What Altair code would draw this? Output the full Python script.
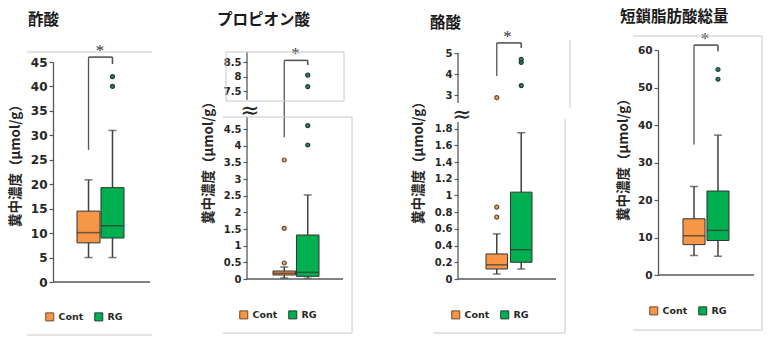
import altair as alt
import pandas as pd

groups = ["Cont", "RG"]
box_colors = ["#F79646", "#00B050"]
out_fill = ["#E3A86E", "#2F7F5F"]
out_stroke = ["#6B4A2A", "#1E3B33"]

titles = ["酢酸", "プロピオン酸", "酪酸", "短鎖脂肪酸総量"]
y_title = "糞中濃度（μmol/g）"

# 酢酸
ace_low = [5.0, 5.0]
ace_q1 = [8.0, 9.0]
ace_med = [10.1, 11.5]
ace_q3 = [14.5, 19.3]
ace_high = [20.9, 31.0]
ace_out_g = ["RG", "RG"]
ace_out_v = [40.0, 42.0]
ace_ticks = [0, 5, 10, 15, 20, 25, 30, 35, 40, 45]
ace_sig = [27.0, 46.0, 44.6]

# プロピオン酸
pro_low = [0.03, 0.02]
pro_q1 = [0.12, 0.08]
pro_med = [0.17, 0.20]
pro_q3 = [0.24, 1.32]
pro_high = [0.36, 2.52]
pro_out_g = ["Cont", "Cont", "Cont", "RG", "RG", "RG", "RG"]
pro_out_v = [0.48, 1.52, 3.57, 4.02, 4.60, 7.65, 8.05]
pro_ticks = [0, 0.5, 1, 1.5, 2, 2.5, 3, 3.5, 4, 4.5, 7.5, 8, 8.5]
pro_sig = [4.25, 8.56, 8.40]

# 酪酸
but_low = [0.06, 0.12]
but_q1 = [0.12, 0.20]
but_med = [0.17, 0.35]
but_q3 = [0.30, 1.04]
but_high = [0.54, 1.75]
but_out_g = ["Cont", "Cont", "Cont", "RG", "RG", "RG"]
but_out_v = [0.74, 0.86, 2.88, 3.45, 4.55, 4.70]
but_ticks = [0, 0.2, 0.4, 0.6, 0.8, 1, 1.2, 1.4, 1.6, 1.8, 3, 4, 5]
but_sig = [3.9, 5.48, 5.24]

# 短鎖脂肪酸総量
tot_low = [5.2, 5.0]
tot_q1 = [8.1, 9.2]
tot_med = [10.5, 11.9]
tot_q3 = [15.0, 22.4]
tot_high = [23.6, 37.3]
tot_out_g = ["RG", "RG"]
tot_out_v = [52.2, 54.8]
tot_ticks = [0, 10, 20, 30, 40, 50, 60]
tot_sig = [34.8, 61.3, 59.7]

JP = "Noto Sans CJK JP"
LAT = "DejaVu Sans"
FRAME = "#C8C8C8"

ONE = alt.Data(values=[{"k": 1}])


def hline(x1, x2, y, color=FRAME, sw=1, op=1):
    return alt.Chart(ONE).mark_rule(color=color, strokeWidth=sw, opacity=op).encode(
        x=alt.value(x1), x2=alt.value(x2), y=alt.value(y))


def vline(x, y1, y2):
    return alt.Chart(ONE).mark_rule(color=FRAME, strokeWidth=1).encode(
        x=alt.value(x), y=alt.value(y1), y2=alt.value(y2))


def panel(c):
    xs = alt.Scale(domain=groups, range=c["xr"], paddingInner=c["pi"], paddingOuter=0)
    ys = alt.Scale(domain=c["ydom"], range=c["yr"], nice=False, zero=False)
    yaxis = alt.Axis(
        values=c["ticks"], labelExpr="toString(datum.value)", title=y_title,
        titleX=c["ytx"], titleY=c["yty"], titleAngle=-90, titleAlign="center",
        titleBaseline="middle", titleFont=JP, titleFontSize=13.5, titleFontWeight="bold",
        titleColor="#262626", labelFont=LAT, labelFontSize=c["lfs"], labelFontWeight="bold",
        labelColor="#262626", tickColor="#595959", tickSize=4, tickWidth=1.2,
        domain=c["domain"], domainColor="#595959", domainWidth=1.3, grid=False,
        labelPadding=2, labelOverlap=False, labelFlush=False, titleLimit=300)

    def X(f, **kw):
        return alt.X(f, scale=xs, axis=None, **kw)

    def Y(f):
        return alt.Y(f, scale=ys, axis=yaxis)

    box_df = pd.DataFrame({"g": groups, "low": c["low"], "q1": c["q1"],
                           "med": c["med"], "q3": c["q3"], "high": c["high"]})
    out_df = pd.DataFrame({"g": c["out_g"], "v": c["out_v"]})
    sig_df = pd.DataFrame({"left": ["Cont"], "right": ["RG"], "lo": [c["sig"][0]],
                           "top": [c["sig"][1]], "rend": [c["sig"][2]], "s": ["*"]})
    base = alt.Chart(box_df)

    layers = []
    layers.append(base.mark_rule(color="#404040", strokeWidth=1.5).encode(
        x=X("g:N"), y=Y("low:Q"), y2="high:Q"))
    layers.append(base.mark_tick(color="#404040", size=8, thickness=1.5).encode(
        x=X("g:N"), y=Y("low:Q")))
    layers.append(base.mark_tick(color="#404040", size=8, thickness=1.5).encode(
        x=X("g:N"), y=Y("high:Q")))
    layers.append(base.mark_bar(stroke="#333333", strokeWidth=1, opacity=1).encode(
        x=X("g:N"), y=Y("q1:Q"), y2="q3:Q",
        color=alt.Color("g:N", scale=alt.Scale(domain=groups, range=box_colors),
                        legend=alt.Legend(
                            orient="none", legendX=c["lx"], legendY=c["ly"],
                            direction="horizontal", title=None, symbolType="square",
                            symbolSize=64, symbolStrokeColor="#333333",
                            symbolStrokeWidth=1, labelFont=LAT, labelFontSize=9.5,
                            labelFontWeight="bold", labelColor="#262626",
                            columnPadding=8, labelOffset=4))))
    layers.append(base.mark_tick(color="#333333", size=c["bw"], thickness=1.5).encode(
        x=X("g:N"), y=Y("med:Q")))
    layers.append(alt.Chart(out_df).mark_point(filled=True, size=16, strokeWidth=1.2, opacity=1).encode(
        x=X("g:N"), y=Y("v:Q"),
        fill=alt.Fill("g:N", scale=alt.Scale(domain=groups, range=out_fill), legend=None),
        stroke=alt.Stroke("g:N", scale=alt.Scale(domain=groups, range=out_stroke), legend=None)))

    sig = alt.Chart(sig_df)
    layers.append(sig.mark_rule(color="#555555", strokeWidth=1.3).encode(
        x=X("left:N"), y=Y("lo:Q"), y2="top:Q"))
    layers.append(sig.mark_rule(color="#555555", strokeWidth=1.6).encode(
        x=X("left:N"), x2="right:N", y=Y("top:Q")))
    layers.append(sig.mark_rule(color="#555555", strokeWidth=1.6).encode(
        x=X("right:N"), y=Y("top:Q"), y2="rend:Q"))
    layers.append(sig.mark_text(font="Liberation Serif", fontSize=17, color="#333333",
                                baseline="middle", dy=-6).encode(
        x=X("left:N", bandPosition=1), y=Y("top:Q"), text="s:N"))

    layers.append(alt.Chart(pd.DataFrame({"z": [0]})).mark_rule(
        color="#595959", strokeWidth=1.3).encode(
        x=alt.value(0), x2=alt.value(c["xw"]), y=Y("z:Q")))

    if c.get("segs"):
        seg_df = pd.DataFrame({"a": [s[0] for s in c["segs"]], "b": [s[1] for s in c["segs"]]})
        layers.append(alt.Chart(seg_df).mark_rule(color="#595959", strokeWidth=1.3).encode(
            x=alt.value(0), y=Y("a:Q"), y2="b:Q"))
        layers.append(alt.Chart(alt.Data(values=[{"t": "≈"}])).mark_text(
            font=LAT, fontSize=23, color="#262626", align="center", baseline="middle").encode(
            x=alt.value(c["brk"][0]), y=alt.value(c["brk"][1]), text="t:N"))

    layers.append(alt.Chart(alt.Data(values=[{"t": c["title"]}])).mark_text(
        font=JP, fontSize=15.5, fontWeight="bold", color="#1a1a1a", align="left",
        baseline="middle").encode(x=alt.value(c["tx"]), y=alt.value(c["ty"]), text="t:N"))

    layers += c["frames"]
    return alt.layer(*layers).properties(width=c["w"], height=340)


# invisible page-extent guides so the padded layout spans exactly 772 x 340
guides = [hline(-53, 719, 0, color="white", sw=0.001, op=0),
          hline(-53, 719, 340, color="white", sw=0.001, op=0)]

cfgs = [
    dict(title=titles[0], w=194, xr=[24, 71], pi=0.04, bw=23, xw=97,
         ydom=[0, 45], yr=[282, 62], ticks=ace_ticks, lfs=12, domain=True,
         low=ace_low, q1=ace_q1, med=ace_med, q3=ace_q3, high=ace_high,
         out_g=ace_out_g, out_v=ace_out_v, sig=ace_sig,
         tx=-25, ty=20, ytx=-38, yty=162, lx=-8, ly=312,
         frames=[hline(-26, 99, 52), hline(-26, 99, 335)] + guides),
    dict(title=titles[1], w=211, xr=[26, 72], pi=0.04, bw=22, xw=96,
         ydom=[0, 4.86, 7.19, 8.85], yr=[279, 117, 100, 52], ticks=pro_ticks, lfs=10,
         domain=False, segs=[(0, 4.86), (7.19, 8.85)], brk=(3, 111),
         low=pro_low, q1=pro_q1, med=pro_med, q3=pro_q3, high=pro_high,
         out_g=pro_out_g, out_v=pro_out_v, sig=pro_sig,
         tx=-30, ty=20, ytx=-39, yty=159, lx=-8, ly=310,
         frames=[hline(-21, 97, 52), hline(-21, 97, 101), vline(-21, 52, 101), vline(97, 52, 101),
                 hline(-24, 105, 117), vline(105, 117, 333), hline(-24, 105, 333)]),
    dict(title=titles[2], w=200, xr=[28, 74], pi=0.12, bw=21, xw=98,
         ydom=[0, 1.88, 2.62, 5.0], yr=[279, 122, 103, 53], ticks=but_ticks, lfs=10,
         domain=False, segs=[(0, 1.88), (2.62, 5.0)], brk=(4, 115),
         low=but_low, q1=but_q1, med=but_med, q3=but_q3, high=but_high,
         out_g=but_out_g, out_v=but_out_v, sig=but_sig,
         tx=-28, ty=23, ytx=-40, yty=159, lx=-7, ly=310,
         frames=[vline(112, 40, 108), vline(107, 119, 333), hline(-25, 107, 333)]),
    dict(title=titles[3], w=114, xr=[25, 71], pi=0.08, bw=22, xw=96,
         ydom=[0, 60], yr=[275, 50], ticks=tot_ticks, lfs=10.5, domain=True,
         low=tot_low, q1=tot_q1, med=tot_med, q3=tot_q3, high=tot_high,
         out_g=tot_out_g, out_v=tot_out_v, sig=tot_sig,
         tx=-38, ty=17, ytx=-35, yty=156, lx=-9, ly=306,
         frames=[hline(-25, 104, 36), vline(104, 36, 330), hline(-25, 104, 330)]),
]

chart = alt.hconcat(*[panel(c) for c in cfgs], spacing=0, bounds="flush").resolve_scale(
    color="independent", fill="independent", stroke="independent"
).resolve_legend(color="independent").properties(
    autosize=alt.AutoSizeParams(type="pad"),
    padding=0,
    background="white",
).configure_view(stroke=None)

chart.save("out.html", embed_options={"renderer": "svg", "actions": False})
